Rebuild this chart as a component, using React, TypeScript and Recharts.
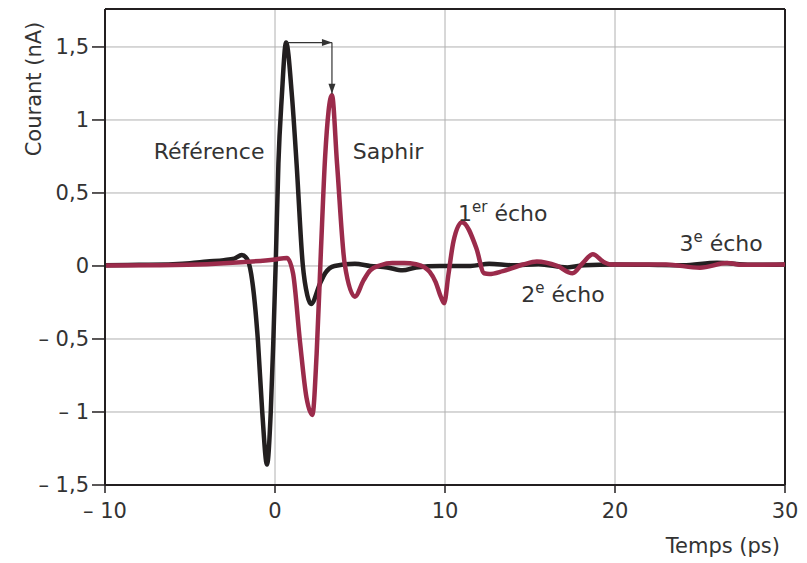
import React from 'react';
import { LineChart, Line, XAxis, YAxis, CartesianGrid, ReferenceLine, ReferenceDot } from 'recharts';

// Reference pulse (black)
const refTime = [
  -10, -8, -6, -5, -4, -3, -2.4, -1.95, -1.65, -1.4, -1.0, -0.75, -0.47, -0.25, -0.1, 0.05, 0.2, 0.4, 0.65,
  1.0, 1.27, 1.63, 1.9, 2.12, 2.65, 2.95, 3.5, 4.7, 5.6, 6.6, 7.5, 8.3, 9.7, 11.5, 12.6, 14, 15.5, 17.2, 18.2,
  20, 22, 24, 26, 28, 30,
];
const refCurrent = [
  0.005, 0.008, 0.012, 0.018, 0.03, 0.04, 0.05, 0.075, 0.05, -0.055, -0.52, -1.0, -1.36, -1.0, -0.52, 0.05, 0.7, 1.16, 1.53,
  1.16, 0.7, 0.014, -0.2, -0.26, -0.12, -0.05, 0, 0.015, 0, -0.01, -0.03, -0.01, 0, 0, 0.015, 0.005, 0.012, -0.01, 0.005,
  0.01, 0.008, 0.005, 0.022, 0.008, 0.01,
];

// Sapphire pulse (red)
const saphirTime = [
  -10, -7, -4, -2, 0, 0.7, 1.06, 1.47, 1.85, 2.2, 2.45, 2.7, 2.95, 3.35, 3.65, 4.1, 4.7, 5.2, 5.6, 6.2, 6.9, 7.6,
  8.3, 8.8, 9.1, 9.45, 9.75, 9.95, 10.2, 10.5, 11.0, 11.85, 12.3, 12.6, 13.4, 14.6, 15.4, 16.6, 17.5, 18.1, 18.7,
  19.3, 19.8, 21, 23, 25, 26.6, 27.5, 30,
];
const saphirCurrent = [
  0.003, 0.005, 0.012, 0.025, 0.045, 0.055, -0.05, -0.52, -0.9, -1.02, -0.6, 0.1, 0.75, 1.17, 0.7, 0.014, -0.21, -0.1,
  -0.03, 0.005, 0.02, 0.02, 0.012, -0.01, -0.04, -0.11, -0.21, -0.255, -0.06, 0.17, 0.3, 0.12, -0.05, -0.055, -0.035,
  0.01, 0.03, 0, -0.05, 0.02, 0.08, 0.03, 0.01, 0.01, 0.01, -0.012, 0.02, 0.008, 0.01,
];

const xTicks = [-10, 0, 10, 20, 30];
const yTicks = [-1.5, -1, -0.5, 0, 0.5, 1, 1.5];

const refData = refTime.map((t, i) => ({ t, v: refCurrent[i] }));
const saphirData = saphirTime.map((t, i) => ({ t, v: saphirCurrent[i] }));

const DARK = '#231f20';
const RED = '#9b2b4b';
const TEXT = '#333333';
const FONT = 'DejaVu Sans, Verdana, sans-serif';

const fmt = (v: number) => {
  const s = Math.abs(v).toString().replace('.', ',');
  return v < 0 ? '– ' + s : s;
};

const annot = (main: string, sup?: string, rest?: string) => (p: any) => (
  <text x={p.cx} y={p.cy} textAnchor="middle" fontSize={22} fill={TEXT} fontFamily={FONT}>
    {main}
    {sup && (
      <tspan dy={-9} fontSize={15}>
        {sup}
      </tspan>
    )}
    {rest && <tspan dy={sup ? 9 : 0}>{rest}</tspan>}
  </text>
);

const arrowRight = (p: any) => (
  <path d={`M${p.cx},${p.cy} L${p.cx - 10},${p.cy - 3.5} L${p.cx - 10},${p.cy + 3.5} Z`} fill={TEXT} />
);
const arrowDown = (p: any) => (
  <path d={`M${p.cx},${p.cy} L${p.cx - 3.5},${p.cy - 10} L${p.cx + 3.5},${p.cy - 10} Z`} fill={TEXT} />
);

const App: React.FC = () => {
  return (
    <div style={{ position: 'absolute', left: 0, top: 0 }}>
      <LineChart width={807} height={563} margin={{ top: 9, right: 22, bottom: 38, left: 0 }}>
        <CartesianGrid stroke="#b0b0b0" strokeWidth={1} />
        <XAxis
          dataKey="t"
          type="number"
          domain={[-10, 30]}
          ticks={xTicks}
          tickFormatter={fmt}
          height={40}
          tickSize={8}
          tickMargin={10}
          axisLine={{ stroke: DARK, strokeWidth: 2 }}
          tickLine={{ stroke: DARK, strokeWidth: 1.5 }}
          tick={{ fill: TEXT, fontSize: 21, fontFamily: FONT }}
          label={{
            content: () => (
              <text x={780} y={553} textAnchor="end" fontSize={21} fill={TEXT} fontFamily={FONT}>
                Temps (ps)
              </text>
            ),
          }}
        />
        <YAxis
          type="number"
          domain={[-1.5, 1.76]}
          ticks={yTicks}
          tickFormatter={fmt}
          allowDataOverflow
          width={105}
          tickSize={13}
          tickMargin={3}
          axisLine={{ stroke: DARK, strokeWidth: 2 }}
          tickLine={{ stroke: DARK, strokeWidth: 1.5 }}
          tick={{ fill: TEXT, fontSize: 21, fontFamily: FONT }}
          label={{
            content: () => (
              <text
                x={34}
                y={89}
                transform="rotate(-90, 34, 89)"
                textAnchor="middle"
                dominantBaseline="central"
                fontSize={21}
                fill={TEXT}
                fontFamily={FONT}
              >
                Courant (nA)
              </text>
            ),
          }}
        />
        <ReferenceLine y={1.76} stroke={DARK} strokeWidth={2} />
        <ReferenceLine x={30} stroke={DARK} strokeWidth={2} />
        <Line data={refData} dataKey="v" type="monotone" stroke={DARK} strokeWidth={4.5} dot={false} isAnimationActive={false} />
        <Line data={saphirData} dataKey="v" type="monotone" stroke={RED} strokeWidth={4.5} dot={false} isAnimationActive={false} />
        <ReferenceLine segment={[{ x: 0.69, y: 1.53 }, { x: 3.35, y: 1.53 }]} stroke={TEXT} strokeWidth={1.2} />
        <ReferenceLine segment={[{ x: 3.35, y: 1.53 }, { x: 3.35, y: 1.18 }]} stroke={TEXT} strokeWidth={1.2} />
        <ReferenceDot x={3.35} y={1.53} shape={arrowRight} />
        <ReferenceDot x={3.35} y={1.18} shape={arrowDown} />
        <ReferenceDot x={-3.88} y={0.73} shape={annot('Référence')} />
        <ReferenceDot x={6.65} y={0.73} shape={annot('Saphir')} />
        <ReferenceDot x={13.4} y={0.31} shape={annot('1', 'er', ' écho')} />
        <ReferenceDot x={16.94} y={-0.245} shape={annot('2', 'e', ' écho')} />
        <ReferenceDot x={26.24} y={0.103} shape={annot('3', 'e', ' écho')} />
      </LineChart>
    </div>
  );
};

export default App;
